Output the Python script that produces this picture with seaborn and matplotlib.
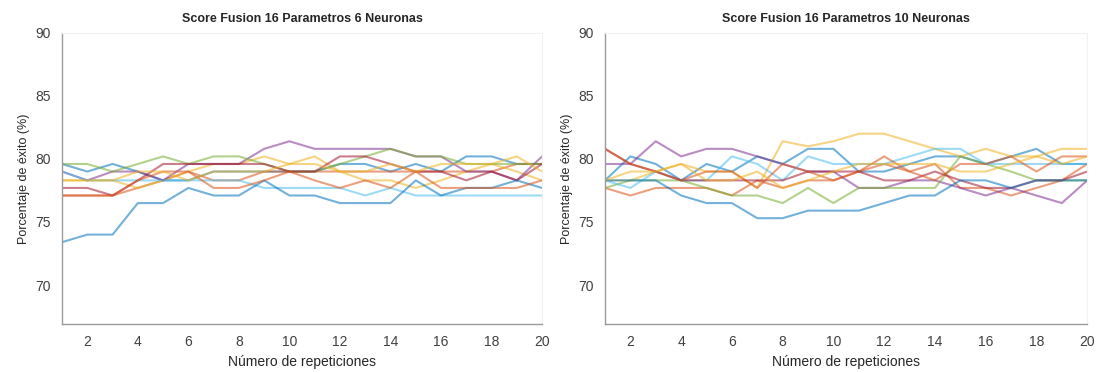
import numpy as np
import pandas as pd
import matplotlib
matplotlib.use("Agg")
import matplotlib.pyplot as plt
import seaborn as sns

sns.set_style("white")
plt.rcParams['font.family'] = ['Liberation Sans', 'DejaVu Sans']

repeticiones = list(range(1, 21))

# Accuracy (%) of each training run, 6 neurons
runs_6n = {
    "r1":  [79.6, 79.0, 79.6, 79.0, 78.3, 78.3, 79.0, 79.0, 79.0, 79.0, 79.0, 79.6, 79.6, 79.0, 79.6, 79.0, 80.2, 80.2, 79.6, 79.6],
    "r2":  [77.1, 77.1, 77.1, 77.7, 78.3, 79.0, 78.3, 78.3, 79.0, 79.0, 79.0, 79.0, 79.0, 79.0, 79.0, 79.0, 79.0, 79.0, 79.6, 79.6],
    "r3":  [78.3, 78.3, 78.3, 77.7, 78.3, 79.0, 79.6, 79.6, 80.2, 79.6, 80.2, 79.0, 78.3, 78.3, 77.7, 78.3, 79.0, 79.6, 79.0, 78.3],
    "r4":  [79.0, 78.3, 79.0, 79.0, 78.3, 79.6, 79.6, 79.6, 80.8, 81.4, 80.8, 80.8, 80.8, 80.8, 80.2, 80.2, 79.0, 79.0, 78.3, 80.2],
    "r5":  [79.6, 79.6, 79.0, 79.6, 80.2, 79.6, 80.2, 80.2, 79.6, 79.0, 79.0, 79.6, 80.2, 80.8, 80.2, 80.2, 79.6, 79.6, 79.6, 79.6],
    "r6":  [79.0, 78.3, 78.3, 78.3, 78.3, 78.3, 78.3, 78.3, 77.7, 77.7, 77.7, 77.7, 77.1, 77.7, 77.1, 77.1, 77.1, 77.1, 77.1, 77.1],
    "r7":  [77.7, 77.7, 77.1, 78.3, 79.6, 79.6, 79.6, 79.6, 79.6, 79.0, 79.0, 80.2, 80.2, 79.6, 79.0, 79.0, 78.3, 79.0, 78.3, 79.6],
    "r8":  [73.4, 74.0, 74.0, 76.5, 76.5, 77.7, 77.1, 77.1, 78.3, 77.1, 77.1, 76.5, 76.5, 76.5, 78.3, 77.1, 77.7, 77.7, 78.3, 77.7],
    "r9":  [77.1, 77.1, 77.1, 78.3, 79.0, 79.0, 77.7, 77.7, 78.3, 79.0, 78.3, 77.7, 78.3, 77.7, 79.0, 77.7, 77.7, 77.7, 77.7, 78.3],
    "r10": [78.3, 78.3, 78.3, 79.0, 79.0, 78.3, 79.0, 79.0, 79.0, 79.6, 79.6, 79.0, 79.0, 79.6, 79.0, 79.6, 79.6, 79.6, 80.2, 79.0],
}

# Accuracy (%) of each training run, 10 neurons
runs_10n = {
    "r1":  [78.3, 80.2, 79.6, 78.3, 79.6, 79.0, 80.2, 79.6, 80.8, 80.8, 79.0, 79.0, 79.6, 80.2, 80.2, 79.6, 80.2, 80.8, 79.6, 79.6],
    "r2":  [77.7, 77.1, 77.7, 77.7, 77.7, 77.1, 78.3, 77.7, 78.3, 78.3, 79.0, 79.6, 79.0, 79.6, 77.7, 77.7, 77.1, 77.7, 78.3, 79.6],
    "r3":  [78.3, 78.3, 79.0, 79.6, 79.0, 79.0, 77.7, 81.4, 81.0, 81.4, 82.0, 82.0, 81.4, 80.8, 80.2, 80.8, 80.2, 80.2, 80.8, 80.8],
    "r4":  [79.6, 79.6, 81.4, 80.2, 80.8, 80.8, 80.2, 79.6, 79.0, 79.0, 77.7, 77.7, 78.3, 78.3, 77.7, 77.1, 77.7, 77.1, 76.5, 78.3],
    "r5":  [77.7, 78.3, 78.3, 78.3, 77.7, 77.1, 77.1, 76.5, 77.7, 76.5, 77.7, 77.7, 77.7, 77.7, 80.2, 79.6, 79.0, 78.3, 78.3, 78.3],
    "r6":  [78.3, 77.7, 79.0, 78.3, 78.3, 80.2, 79.6, 78.3, 80.2, 79.6, 79.6, 79.6, 80.2, 80.8, 80.8, 79.6, 79.6, 79.6, 79.6, 79.6],
    "r7":  [80.8, 79.6, 79.0, 78.3, 78.3, 78.3, 78.3, 78.3, 79.0, 79.0, 79.0, 78.3, 78.3, 79.0, 78.3, 77.7, 77.7, 78.3, 78.3, 79.0],
    "r8":  [78.3, 78.3, 78.3, 77.1, 76.5, 76.5, 75.3, 75.3, 75.9, 75.9, 75.9, 76.5, 77.1, 77.1, 78.3, 78.3, 77.7, 78.3, 78.3, 78.3],
    "r9":  [80.8, 79.6, 79.0, 78.3, 79.0, 79.0, 77.7, 79.6, 79.0, 78.3, 79.0, 80.2, 79.0, 78.3, 79.6, 79.6, 80.2, 79.0, 80.2, 80.2],
    "r10": [78.3, 79.0, 79.0, 79.6, 78.3, 78.3, 79.0, 77.7, 78.3, 79.0, 79.6, 79.6, 79.6, 79.6, 79.0, 79.0, 79.6, 80.2, 79.6, 80.2],
}

titles = ["Score Fusion 16 Parametros 6 Neuronas",
          "Score Fusion 16 Parametros 10 Neuronas"]
yticks = [70, 75, 80, 85, 90]
xticks = [2, 4, 6, 8, 10, 12, 14, 16, 18, 20]

# MATLAB default colour order
palette = ["#0072BD", "#D95319", "#EDB120", "#7E2F8E", "#77AC30",
           "#4DBEEE", "#A2142F", "#0072BD", "#D95319", "#EDB120"]


def to_long(runs):
    rows = []
    for name, vals in runs.items():
        for x, v in zip(repeticiones, vals):
            rows.append({"rep": x, "acc": v, "run": name})
    return pd.DataFrame(rows)


fig = plt.figure(figsize=(10.96, 3.73), dpi=100)
positions = [[0.0566, 0.131, 0.438, 0.781], [0.552, 0.131, 0.440, 0.781]]

for pos, runs, title in zip(positions, [runs_6n, runs_10n], titles):
    ax = fig.add_axes(pos)
    df = to_long(runs)
    sns.lineplot(data=df, x="rep", y="acc", hue="run", palette=palette,
                 linewidth=1.5, alpha=0.55, legend=False, ax=ax)
    ax.set_xlim(1, 20)
    ax.set_ylim(66.9, 90)
    ax.set_xticks(xticks)
    ax.set_yticks(yticks)
    ax.tick_params(direction="in", length=4, colors="#7f7f7f",
                   labelcolor="#404040", labelsize=10, pad=8)
    ax.set_title(title, fontsize=9, fontweight="bold", color="#262626", pad=8)
    ax.set_xlabel("Número de repeticiones", fontsize=10, color="#262626")
    ax.set_ylabel("Porcentaje de éxito (%)", fontsize=9, color="#262626")
    for side in ["left", "bottom"]:
        ax.spines[side].set_color("#9a9a9a")
        ax.spines[side].set_linewidth(1.0)
    for side in ["top", "right"]:
        ax.spines[side].set_color("#f2f2f2")
        ax.spines[side].set_linewidth(0.8)

fig.savefig("out.png", dpi=100)
